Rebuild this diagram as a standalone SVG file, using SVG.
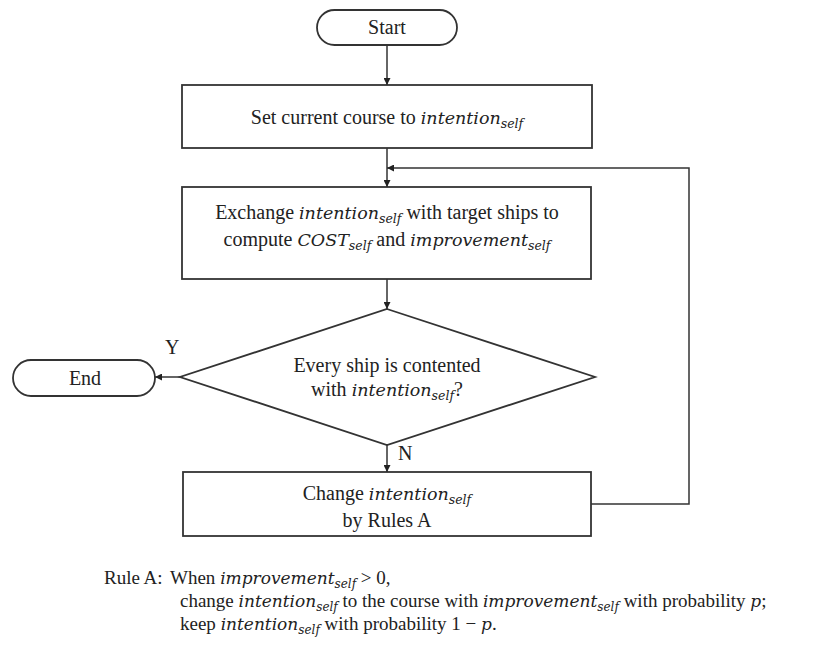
<svg xmlns="http://www.w3.org/2000/svg" width="835" height="646" viewBox="0 0 835 646">
  <defs>
    <marker id="arrow" viewBox="0 0 10 10" refX="10" refY="5" markerWidth="7" markerHeight="7" markerUnits="userSpaceOnUse" orient="auto">
      <path d="M0,0 L10,5 L0,10 z" fill="#222"/>
    </marker>
    <style>
      .shape { fill: #fff; stroke: #333; stroke-width: 1.8; }
      .edge { fill: none; stroke: #333; stroke-width: 1.5; }
      text { font-family: "Liberation Serif", "Times New Roman", serif; font-size: 20px; fill: #222; }
      .t { text-anchor: middle; }
      .m { font-family: "DejaVu Serif", serif; font-style: italic; font-size: 17.5px; }
      .s { font-family: "DejaVu Serif", serif; font-style: italic; font-size: 12.5px; }
      .note { font-size: 19px; }
      .note .m { font-size: 17px; }
      .note .s { font-size: 12px; }
    </style>
  </defs>

  <g id="start">
    <rect class="shape" x="317" y="10" width="140" height="35" rx="17.5"/>
    <text class="t" x="387" y="34">Start</text>
  </g>

  <g id="set-course">
    <rect class="shape" x="182" y="85" width="410" height="63"/>
    <text class="t" x="387" y="124">Set current course to <tspan class="m">intention</tspan><tspan class="s" dy="4">self</tspan></text>
  </g>

  <g id="exchange">
    <rect class="shape" x="182" y="187" width="409" height="92"/>
    <text class="t" x="387" y="219">Exchange <tspan class="m">intention</tspan><tspan class="s" dy="3.5">self</tspan><tspan dy="-3.5"> with target ships to</tspan></text>
    <text class="t" x="387" y="246">compute <tspan class="m">COST</tspan><tspan class="s" dy="3.5">self</tspan><tspan dy="-3.5"> and </tspan><tspan class="m">improvement</tspan><tspan class="s" dy="3.5">self</tspan></text>
  </g>

  <g id="decision">
    <polygon class="shape" points="387,309 595,377 387,445 180,377"/>
    <text class="t" x="387" y="372">Every ship is contented</text>
    <text class="t" x="387" y="396">with <tspan class="m">intention</tspan><tspan class="s" dy="4">self</tspan><tspan dy="-4">?</tspan></text>
  </g>

  <g id="end">
    <rect class="shape" x="13" y="360" width="142" height="36" rx="18"/>
    <text class="t" x="85" y="385">End</text>
  </g>

  <g id="change">
    <rect class="shape" x="183" y="472" width="408" height="64"/>
    <text class="t" x="387" y="500">Change <tspan class="m">intention</tspan><tspan class="s" dy="4">self</tspan></text>
    <text class="t" x="387" y="527">by Rules A</text>
  </g>

  <g id="connectors">
    <line class="edge" x1="387" y1="45" x2="387" y2="85" marker-end="url(#arrow)"/>
    <line class="edge" x1="387" y1="148" x2="387" y2="187" marker-end="url(#arrow)"/>
    <line class="edge" x1="387" y1="279" x2="387" y2="309" marker-end="url(#arrow)"/>
    <line class="edge" x1="180" y1="377" x2="155" y2="377" marker-end="url(#arrow)"/>
    <line class="edge" x1="387" y1="445" x2="387" y2="472" marker-end="url(#arrow)"/>
    <polyline class="edge" points="591,504 689,504 689,168 387,168" marker-end="url(#arrow)"/>
    <text x="165" y="354">Y</text>
    <text x="398" y="460">N</text>
  </g>

  <g id="rule-note" class="note">
    <text class="note" x="104" y="584">Rule A:</text>
    <text class="note" x="170" y="584">When <tspan class="m">improvement</tspan><tspan class="s" dy="4">self</tspan><tspan dy="-4"> &gt; 0,</tspan></text>
    <text class="note" x="180" y="607">change <tspan class="m">intention</tspan><tspan class="s" dy="4">self</tspan><tspan dy="-4"> to the course with </tspan><tspan class="m">improvement</tspan><tspan class="s" dy="4">self</tspan><tspan dy="-4"> with probability </tspan><tspan class="m">p</tspan>;</text>
    <text class="note" x="180" y="630">keep <tspan class="m">intention</tspan><tspan class="s" dy="4">self</tspan><tspan dy="-4"> with probability 1 − </tspan><tspan class="m">p</tspan>.</text>
  </g>
</svg>
